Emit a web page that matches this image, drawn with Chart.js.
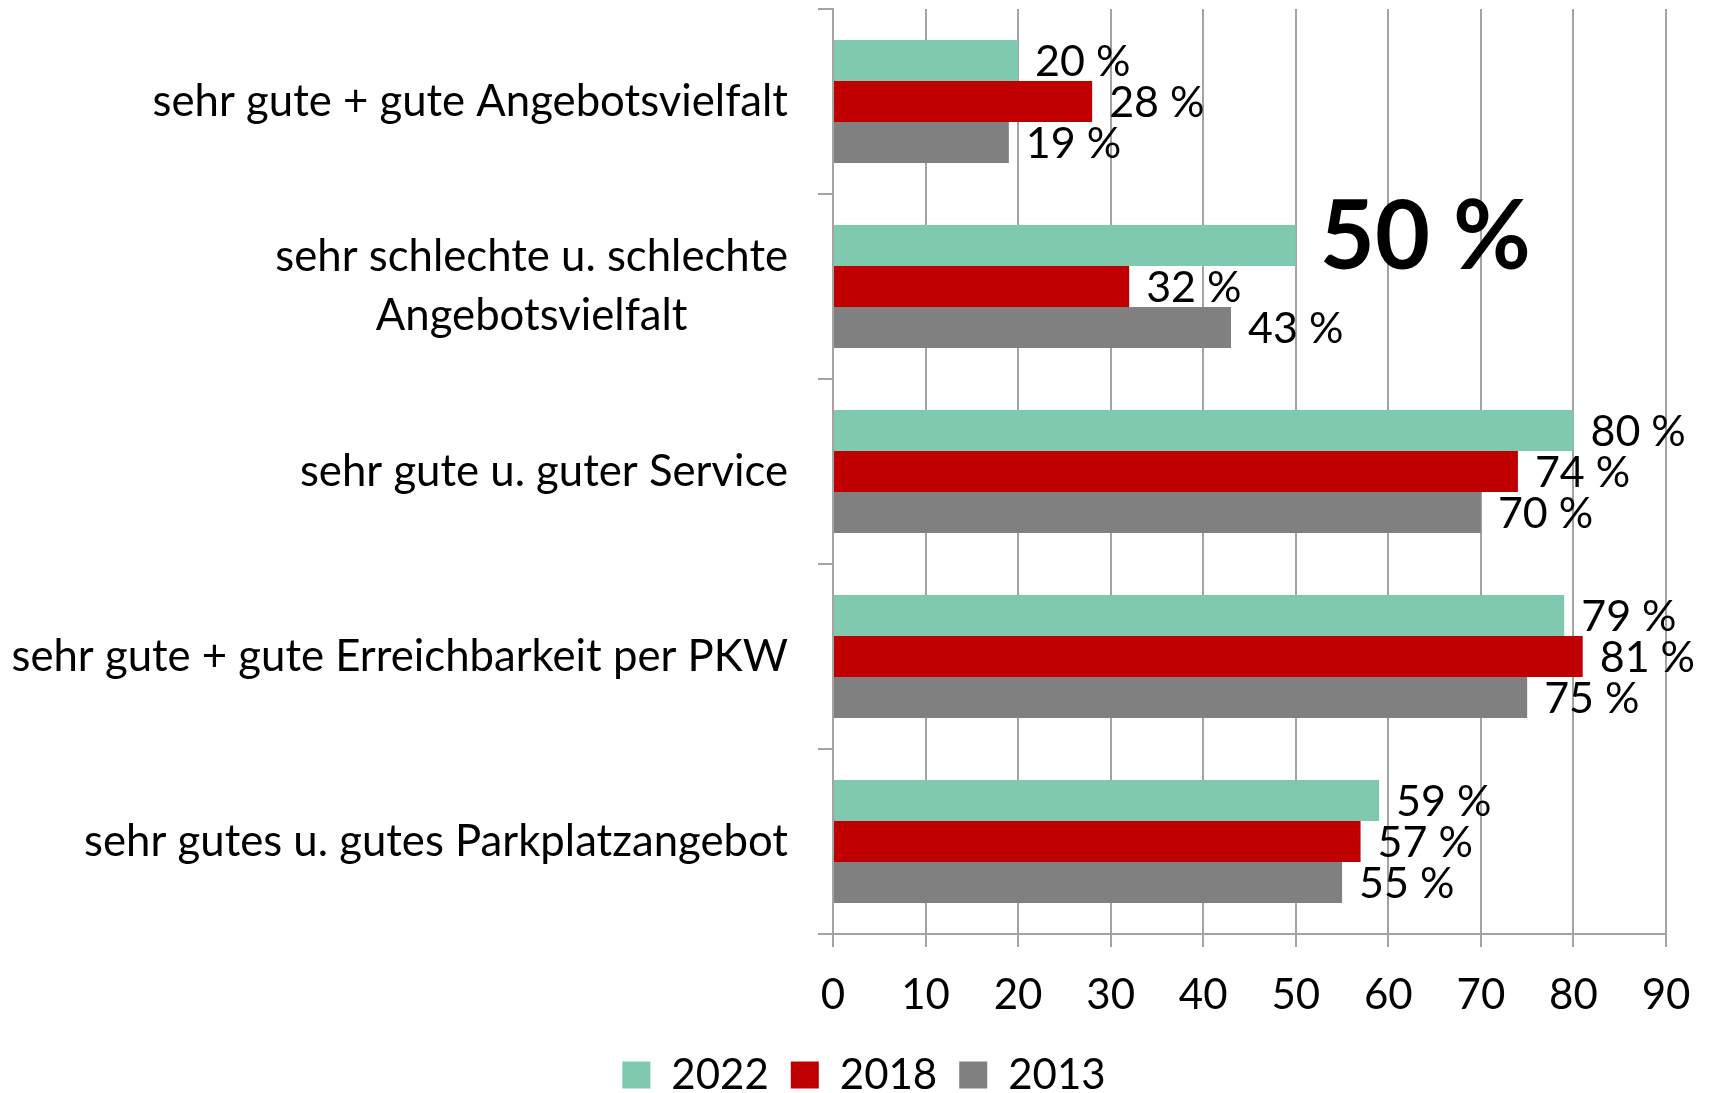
<!DOCTYPE html>
<html><head><meta charset="utf-8">
<script src="https://cdn.jsdelivr.net/npm/chart.js@4/dist/chart.umd.min.js"></script>
<style>html,body{margin:0;padding:0;background:#fff}#wrap{width:1711px;height:1093px;position:relative}</style>
</head><body><div id="wrap"><canvas id="c"></canvas></div>
<script>
const categories = [
  ["sehr gute + gute Angebotsvielfalt"],
  ["sehr schlechte u. schlechte", "Angebotsvielfalt"],
  ["sehr gute u. guter Service"],
  ["sehr gute + gute Erreichbarkeit per PKW"],
  ["sehr gutes u. gutes Parkplatzangebot"]
];
const seriesNames = ["2022", "2018", "2013"];
const values2022 = [20, 50, 80, 79, 59];
const values2018 = [28, 32, 74, 81, 57];
const values2013 = [19, 43, 70, 75, 55];
const xTickValues = [0, 10, 20, 30, 40, 50, 60, 70, 80, 90];
const highlightedLabel = { dataset: 0, index: 1 };

const FONT = "Lato, 'Open Sans', sans-serif";
const colors = ["#7fc9ae", "#c00000", "#808080"];
const GRID = "#a3a3a3";

const yLabelPlugin = {
  id: 'yLabels',
  afterDraw(chart) {
    const ctx = chart.ctx, ys = chart.scales.y;
    ctx.save();
    ctx.font = "43.7px " + FONT;
    ctx.fillStyle = "#000";
    ctx.textBaseline = "middle";
    ctx.textAlign = "center";
    const right = ys.right - 45;
    const lh = 59;
    categories.forEach((lines, i) => {
      const cy = ys.getPixelForValue(i);
      const maxW = Math.max(...lines.map(l => ctx.measureText(l).width));
      lines.forEach((l, j) => {
        const y = cy + (j - (lines.length - 1) / 2) * lh;
        ctx.fillText(l, right - maxW / 2, y);
      });
    });
    ctx.restore();
  }
};

const valueLabelPlugin = {
  id: 'valueLabels',
  afterDatasetsDraw(chart) {
    const ctx = chart.ctx;
    ctx.save();
    ctx.fillStyle = "#000";
    ctx.textBaseline = "middle";
    ctx.textAlign = "left";
    chart.data.datasets.forEach((ds, di) => {
      const meta = chart.getDatasetMeta(di);
      meta.data.forEach((bar, i) => {
        const big = di === highlightedLabel.dataset && i === highlightedLabel.index;
        ctx.font = (big ? "bold 95px " : "43px ") + FONT;
        ctx.fillText(ds.data[i] + " %", bar.x + (big ? 24 : 17), bar.y + (big ? -7 : 2));
      });
    });
    ctx.restore();
  }
};

const legendShiftPlugin = {
  id: 'legendShift',
  afterLayout(chart) {
    const lg = chart.legend;
    if (lg) { lg.left += 31; lg.right += 31; }
  }
};

const chart = new Chart(document.getElementById('c'), {
  type: 'bar',
  data: {
    labels: categories.map(c => c.join(' ')),
    datasets: [
      { label: seriesNames[0], data: values2022, backgroundColor: colors[0] },
      { label: seriesNames[1], data: values2018, backgroundColor: colors[1] },
      { label: seriesNames[2], data: values2013, backgroundColor: colors[2] }
    ]
  },
  options: {
    indexAxis: 'y',
    responsive: true,
    maintainAspectRatio: false,
    animation: false,
    devicePixelRatio: 1,
    layout: { padding: { top: 9, right: 45, left: 0, bottom: 0 } },
    datasets: { bar: { categoryPercentage: 0.665, barPercentage: 1.0 } },
    plugins: {
      legend: {
        position: 'bottom',
        labels: {
          font: { family: FONT, size: 42 },
          color: "#000",
          boxWidth: 28,
          boxHeight: 27,
          padding: 22
        }
      },
      tooltip: { enabled: false }
    },
    scales: {
      x: {
        type: 'linear',
        min: 0, max: 90,
        afterBuildTicks(scale) { scale.ticks = xTickValues.map(v => ({ value: v })); },
        afterFit(scale) { scale.height = 98; scale.paddingLeft = 0; scale.paddingRight = 0; },
        ticks: { font: { family: FONT, size: 42 }, color: "#000", padding: 23, maxRotation: 0 },
        grid: { color: GRID, lineWidth: 2, tickLength: 13, drawTicks: true },
        border: { color: GRID, width: 2 }
      },
      y: {
        type: 'category',
        offset: true,
        afterFit(scale) { scale.width = 833; },
        ticks: { display: false },
        grid: { offset: true, drawOnChartArea: false, drawTicks: true, tickLength: 15, color: GRID, lineWidth: 2 },
        border: { color: GRID, width: 2 }
      }
    }
  },
  plugins: [yLabelPlugin, valueLabelPlugin, legendShiftPlugin]
});

const origFit = chart.legend.fit;
chart.legend.fit = function () { origFit.call(this); this.height = 61; };
chart.update();
</script>
</body></html>
